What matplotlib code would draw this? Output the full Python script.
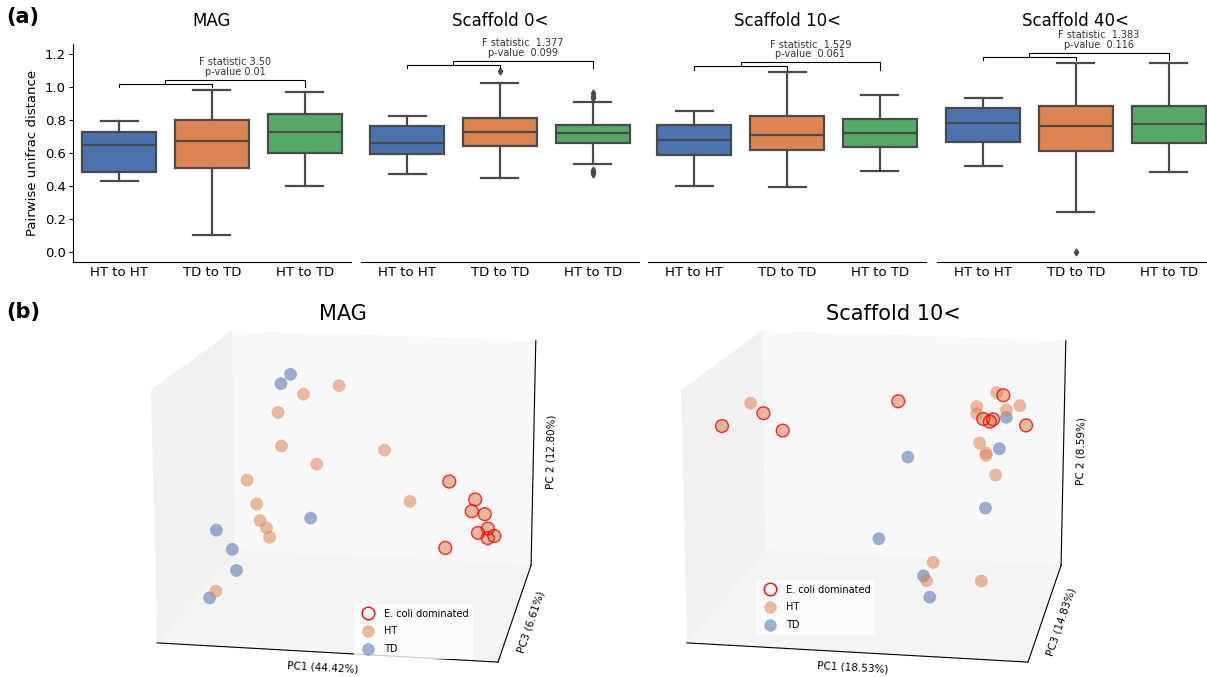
import numpy as np
import matplotlib
matplotlib.use('Agg')
import matplotlib.pyplot as plt
from matplotlib.lines import Line2D

# ---------------- data : panel (a) ----------------
categories = ['HT to HT', 'TD to TD', 'HT to TD']
panel_titles = ['MAG', 'Scaffold 0<', 'Scaffold 10<', 'Scaffold 40<']

mag_whislo = [0.430, 0.107, 0.400]
mag_q1 = [0.485, 0.513, 0.604]
mag_med = [0.652, 0.675, 0.729]
mag_q3 = [0.727, 0.804, 0.836]
mag_whishi = [0.796, 0.985, 0.973]
mag_fliers = [[], [], []]

s0_whislo = [0.476, 0.452, 0.537]
s0_q1 = [0.598, 0.644, 0.662]
s0_med = [0.661, 0.727, 0.725]
s0_q3 = [0.767, 0.812, 0.770]
s0_whishi = [0.826, 1.028, 0.909]
s0_fliers = [[], [1.099], [0.965, 0.948, 0.935, 0.500, 0.485, 0.472]]

s10_whislo = [0.404, 0.396, 0.495]
s10_q1 = [0.590, 0.618, 0.638]
s10_med = [0.681, 0.713, 0.723]
s10_q3 = [0.771, 0.828, 0.810]
s10_whishi = [0.855, 1.091, 0.953]
s10_fliers = [[], [], []]

s40_whislo = [0.523, 0.242, 0.485]
s40_q1 = [0.668, 0.614, 0.664]
s40_med = [0.785, 0.765, 0.779]
s40_q3 = [0.876, 0.887, 0.887]
s40_whishi = [0.937, 1.149, 1.147]
s40_fliers = [[], [0.0], []]

f_labels = ['F statistic 3.50', 'F statistic  1.377', 'F statistic  1.529', 'F statistic  1.383']
p_labels = ['p-value 0.01', 'p-value  0.099', 'p-value  0.061', 'p-value  0.116']

yticks = [0.0, 0.2, 0.4, 0.6, 0.8, 1.0, 1.2]

# ---------------- data : panel (b) ----------------
mag_ht_pc1 = [0.45, 0.34, 0.26, 0.27, 0.38, 0.59, 0.16, 0.19, 0.20, 0.22, 0.23, 0.67, 0.13]
mag_ht_pc2 = [0.91, 0.87, 0.79, 0.65, 0.58, 0.65, 0.50, 0.40, 0.33, 0.30, 0.26, 0.44, 0.14]
mag_ht_pc3 = [0.50, 0.50, 0.50, 0.50, 0.50, 0.50, 0.50, 0.50, 0.50, 0.50, 0.50, 0.50, 0.20]
mag_ec_pc1 = [0.79, 0.87, 0.86, 0.90, 0.91, 0.88, 0.91, 0.93, 0.78]
mag_ec_pc2 = [0.53, 0.46, 0.41, 0.40, 0.34, 0.32, 0.30, 0.31, 0.25]
mag_ec_pc3 = [0.50, 0.50, 0.50, 0.50, 0.50, 0.50, 0.50, 0.50, 0.50]
mag_td_pc1 = [0.30, 0.27, 0.36, 0.06, 0.11, 0.17, 0.11]
mag_td_pc2 = [0.95, 0.91, 0.35, 0.28, 0.20, 0.19, 0.11]
mag_td_pc3 = [0.50, 0.50, 0.50, 0.50, 0.50, 0.30, 0.20]

s10_ht_pc1 = [0.08, 0.84, 0.78, 0.78, 0.87, 0.91, 0.79, 0.81, 0.81, 0.84, 0.65, 0.63, 0.80]
s10_ht_pc2 = [0.82, 0.90, 0.84, 0.81, 0.83, 0.85, 0.69, 0.65, 0.64, 0.56, 0.18, 0.10, 0.11]
s10_ht_pc3 = [0.50, 0.50, 0.50, 0.50, 0.50, 0.50, 0.50, 0.50, 0.50, 0.50, 0.50, 0.50, 0.50]
s10_ec_pc1 = [0.04, 0.12, 0.18, 0.54, 0.86, 0.80, 0.83, 0.82, 0.93]
s10_ec_pc2 = [0.78, 0.78, 0.71, 0.85, 0.89, 0.79, 0.79, 0.78, 0.77]
s10_ec_pc3 = [0.30, 0.50, 0.50, 0.50, 0.50, 0.50, 0.50, 0.50, 0.50]
s10_td_pc1 = [0.87, 0.85, 0.57, 0.81, 0.48, 0.62, 0.64]
s10_td_pc2 = [0.80, 0.67, 0.62, 0.42, 0.27, 0.12, 0.03]
s10_td_pc3 = [0.50, 0.50, 0.50, 0.50, 0.50, 0.50, 0.50]

mag_axis_labels = ['PC1 (44.42%)', 'PC3 (6.61%)', 'PC 2 (12.80%)']
s10_axis_labels = ['PC1 (18.53%)', 'PC3 (14.83%)', 'PC 2 (8.59%)']
legend_labels = ['E. coli dominated', 'HT', 'TD']

# ---------------- style ----------------
plt.rcParams['font.family'] = ['DejaVu Sans']
box_colors = ['#4C72B0', '#DD8452', '#55A868']
gray = '#4a4a4a'
lw = 1.6

W, H = 1207, 677
fig = plt.figure(figsize=(W / 100, H / 100), dpi=100)


def fx(px):
    return px / W


def fy(py):
    return 1 - py / H


panel_data = [
    (mag_whislo, mag_q1, mag_med, mag_q3, mag_whishi, mag_fliers),
    (s0_whislo, s0_q1, s0_med, s0_q3, s0_whishi, s0_fliers),
    (s10_whislo, s10_q1, s10_med, s10_q3, s10_whishi, s10_fliers),
    (s40_whislo, s40_q1, s40_med, s40_q3, s40_whishi, s40_fliers),
]
lefts = [72.7, 360.7, 648.0, 936.7]
ax_w = 278.3
top_px, bot_px = 43.7, 262.3

for i, (wl, q1, md, q3, wh, fl) in enumerate(panel_data):
    ax = fig.add_axes([fx(lefts[i]), fy(bot_px), ax_w / W, (bot_px - top_px) / H])
    stats = []
    for j in range(3):
        stats.append(dict(med=md[j], q1=q1[j], q3=q3[j], whislo=wl[j], whishi=wh[j], fliers=fl[j]))
    bp = ax.bxp(stats, positions=[0, 1, 2], widths=0.8, patch_artist=True, showfliers=True,
                boxprops=dict(edgecolor=gray, linewidth=lw),
                medianprops=dict(color=gray, linewidth=lw),
                whiskerprops=dict(color=gray, linewidth=lw),
                capprops=dict(color=gray, linewidth=lw),
                flierprops=dict(marker='d', markerfacecolor=gray, markeredgecolor=gray,
                                markersize=3.5, linestyle='none'))
    for patch, c in zip(bp['boxes'], box_colors):
        patch.set_facecolor(c)
    ax.set_xlim(-0.5, 2.5)
    ax.set_ylim(-0.061, 1.264)
    ax.set_xticks([0, 1, 2])
    ax.set_xticklabels(categories, fontsize=9.5)
    ax.tick_params(axis='x', length=0, pad=3)
    ax.spines['top'].set_visible(False)
    ax.spines['right'].set_visible(False)
    if i == 0:
        ax.set_yticks(yticks)
        ax.set_yticklabels(['%.1f' % t for t in yticks], fontsize=9.5)
        ax.tick_params(axis='y', length=3, width=0.8, pad=2)
        ax.set_ylabel('Pairwise unifrac distance', fontsize=9.5, labelpad=4)
    else:
        ax.spines['left'].set_visible(False)
        ax.set_yticks([])
    ax.set_title(panel_titles[i], fontsize=12, pad=13)

    # significance brackets
    top = max(max(wh), max([max(f) if len(f) else 0 for f in fl]))
    h1 = top + 0.036
    h2 = h1 + 0.024
    leg = h1 - 0.02
    kw = dict(color='black', linewidth=0.8, clip_on=False)
    ax.plot([0, 0, 1, 1], [leg, h1, h1, leg], **kw)
    ax.plot([0.5, 0.5, 2, 2], [h1, h2, h2, leg], **kw)
    ax.text(1.25, h2 + 0.048, p_labels[i], ha='center', va='center', fontsize=7, color='#333333')
    ax.text(1.25, h2 + 0.107, f_labels[i], ha='center', va='center', fontsize=7, color='#333333')

fig.text(fx(6), fy(17), '(a)', fontsize=15, fontweight='bold', ha='left', va='center')
fig.text(fx(6), fy(312), '(b)', fontsize=15, fontweight='bold', ha='left', va='center')

# ---------------- panel (b) ----------------
ht_color = '#DD8452'
td_color = '#4C72B0'
pt_alpha = 0.55
pt_size = 85


def draw3d(rect, title, title_xy, ht, ec, td, axlabels, leg_anchor):
    ax = fig.add_axes(rect, projection='3d')
    ax.view_init(elev=14, azim=-80)
    ax.set_box_aspect(None, zoom=1.3)
    ax.xaxis.set_pane_color((0.945, 0.945, 0.945, 1.0))
    ax.yaxis.set_pane_color((0.972, 0.972, 0.972, 1.0))
    ax.zaxis.set_pane_color((0.955, 0.955, 0.955, 1.0))
    ax.scatter(ht[0], ht[2], ht[1], s=pt_size, color=ht_color, alpha=pt_alpha,
               edgecolors='none', depthshade=False)
    ax.scatter(ec[0], ec[2], ec[1], s=pt_size, color=ht_color, alpha=pt_alpha,
               edgecolors='none', depthshade=False)
    ax.scatter(ec[0], ec[2], ec[1], s=pt_size, facecolors='none', edgecolors='red',
               linewidths=1.0, alpha=0.8, depthshade=False)
    ax.scatter(td[0], td[2], td[1], s=pt_size, color=td_color, alpha=pt_alpha,
               edgecolors='none', depthshade=False)
    ax.set_xlim(0, 1)
    ax.set_ylim(0, 1)
    ax.set_zlim(0, 1)
    ax.set_xticks([])
    ax.set_yticks([])
    ax.set_zticks([])
    ax.grid(False)
    ax.set_xlabel(axlabels[0], fontsize=7.5, labelpad=-15)
    ax.set_ylabel(axlabels[1], fontsize=7.5, labelpad=-14)
    ax.set_zlabel(axlabels[2], fontsize=7.5, labelpad=-13)
    fig.text(fx(title_xy[0]), fy(title_xy[1]), title, fontsize=15, ha='center', va='center')
    handles = [
        Line2D([], [], marker='o', linestyle='none', markersize=9, markerfacecolor='none',
               markeredgecolor='red', markeredgewidth=1.0),
        Line2D([], [], marker='o', linestyle='none', markersize=9, markerfacecolor=ht_color,
               markeredgecolor='none', alpha=pt_alpha),
        Line2D([], [], marker='o', linestyle='none', markersize=9, markerfacecolor=td_color,
               markeredgecolor='none', alpha=pt_alpha),
    ]
    ax.legend(handles, legend_labels, loc='upper left', bbox_to_anchor=leg_anchor,
              bbox_transform=fig.transFigure, fontsize=7, frameon=True, framealpha=0.8,
              edgecolor='none', facecolor='white', borderpad=0.5, labelspacing=0.8,
              handletextpad=0.6)
    return ax


draw3d([fx(110), fy(685), 480 / W, 390 / H], 'MAG', (343, 314),
       (mag_ht_pc1, mag_ht_pc2, mag_ht_pc3), (mag_ec_pc1, mag_ec_pc2, mag_ec_pc3),
       (mag_td_pc1, mag_td_pc2, mag_td_pc3), mag_axis_labels, (fx(349), fy(599)))
draw3d([fx(640), fy(685), 480 / W, 390 / H], 'Scaffold 10<', (893, 314),
       (s10_ht_pc1, s10_ht_pc2, s10_ht_pc3), (s10_ec_pc1, s10_ec_pc2, s10_ec_pc3),
       (s10_td_pc1, s10_td_pc2, s10_td_pc3), s10_axis_labels, (fx(751), fy(575)))

fig.savefig('out.png', dpi=100)
